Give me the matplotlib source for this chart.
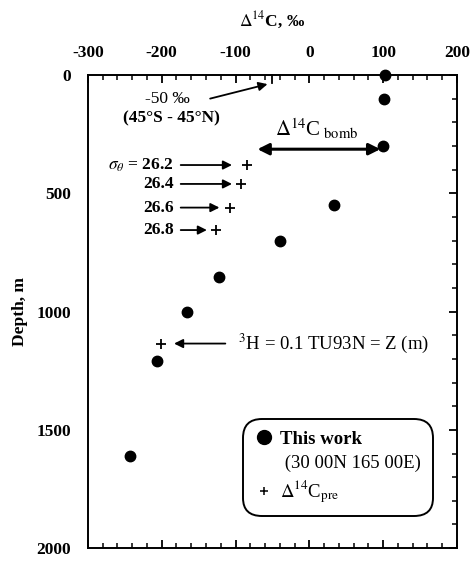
import matplotlib
matplotlib.use("Agg")
import matplotlib.pyplot as plt
from matplotlib.lines import Line2D
from matplotlib.ticker import MultipleLocator

plt.rcParams['font.family'] = ['Liberation Serif', 'DejaVu Serif']
plt.rcParams['mathtext.fontset'] = 'stix'
plt.rcParams['axes.unicode_minus'] = False

# measured delta14C profile (30 00N 165 00E)
work_d14c = [102, 101, 100, 33, -40, -122, -166, -206, -243]
work_depth = [0, 100, 300, 550, 700, 855, 1000, 1210, 1610]

# pre-bomb delta14C estimates
pre_d14c = [-85, -93, -108, -127, -201]
pre_depth = [380, 460, 560, 655, 1135]

sigma_labels = ['26.2', '26.4', '26.6', '26.8']

fig = plt.figure(figsize=(4.75, 5.61), dpi=100)
ax = fig.add_axes([0.185, 0.023, 0.777, 0.843])

ax.plot(work_d14c, work_depth, 'o', color='black', ms=7.5, clip_on=False)
ax.plot(pre_d14c, pre_depth, '+', color='black', ms=7, mew=1.3)

ax.set_xlim(-300, 200)
ax.set_ylim(2000, 0)
ax.xaxis.set_major_locator(MultipleLocator(100))
ax.xaxis.set_minor_locator(MultipleLocator(20))
ax.yaxis.set_major_locator(MultipleLocator(500))
ax.yaxis.set_minor_locator(MultipleLocator(100))
ax.tick_params(axis='x', which='both', direction='in', top=True, bottom=True,
               labeltop=True, labelbottom=False)
ax.tick_params(axis='y', which='both', direction='in', left=False, right=True,
               labelleft=True, labelright=False)
ax.tick_params(which='major', length=6, width=1.3, labelsize=12.5)
ax.tick_params(axis='x', pad=10)
ax.tick_params(axis='y', pad=12)
ax.tick_params(which='minor', length=3.5, width=1.1)
for lab in ax.get_xticklabels() + ax.get_yticklabels():
    lab.set_fontweight('bold')
for s in ax.spines.values():
    s.set_linewidth(1.4)

ax.xaxis.set_label_position('top')
ax.set_xlabel(r'$\Delta^{14}$C, ‰', fontsize=12.5, fontweight='bold', labelpad=14)
ax.set_ylabel('Depth, m', fontsize=12.5, fontweight='bold', labelpad=6)

arrow = dict(arrowstyle='-|>', color='black', lw=1.3, mutation_scale=13)

# -50 permil marker
ax.plot([-51, -51], [0, 35], color='black', lw=1.3, clip_on=False)
ax.annotate('', xy=(-53, 35), xytext=(-138, 102), arrowprops=arrow)
ax.text(-192, 102, '-50 ‰', ha='center', va='center', fontsize=12.5)
ax.text(-187, 182, '(45°S - 45°N)', ha='center', va='center', fontsize=12.5,
        fontweight='bold')

# bomb component
ax.annotate('', xy=(-74, 313), xytext=(100, 313),
            arrowprops=dict(arrowstyle='<|-|>', color='black', lw=2.2, mutation_scale=17))
ax.text(10, 230, r'$\Delta^{14}$C$_{\ \rm bomb}$', ha='center', va='center', fontsize=15)

# isopycnal arrows
sig_x = [-178, -178, -178, -178]
sig_tip = [-101, -101, -118, -135]
for lab, x0, x1, d in zip(sigma_labels, sig_x, sig_tip, pre_depth[:4]):
    ax.annotate('', xy=(x1, d), xytext=(x0, d), arrowprops=arrow)
    txt = lab if lab != '26.2' else r'$\sigma_\theta$' + ' = ' + lab
    ax.text(x0 - 6, d, txt, ha='right', va='center', fontsize=12.5, fontweight='bold')

# tritium arrow
ax.annotate('', xy=(-187, 1135), xytext=(-110, 1135), arrowprops=arrow)
ax.text(-96, 1135, r'$^{3}$H = 0.1 TU93N = Z (m)', ha='left', va='center', fontsize=13.5)

handles = [Line2D([], [], marker='o', ls='none', color='black', ms=10),
           Line2D([], [], ls='none'),
           Line2D([], [], marker='+', ls='none', color='black', ms=6, mew=1.1)]
labels = ['This work', ' (30 00N 165 00E)', r'$\Delta^{14}$C$_{\rm pre}$']
leg = ax.legend(handles, labels, loc='upper left', bbox_to_anchor=(0.42, 0.272),
                frameon=True, fancybox=True, edgecolor='black', fontsize=13.5,
                handletextpad=0.4, handlelength=1.0, borderpad=0.6,
                labelspacing=0.35, borderaxespad=0)
frame = leg.get_frame()
frame.set_linewidth(1.4)
frame.set_alpha(1)
frame.set_boxstyle('round', pad=0, rounding_size=1.0)
texts = leg.get_texts()
texts[0].set_fontweight('bold')

fig.savefig('out.png', dpi=100)
